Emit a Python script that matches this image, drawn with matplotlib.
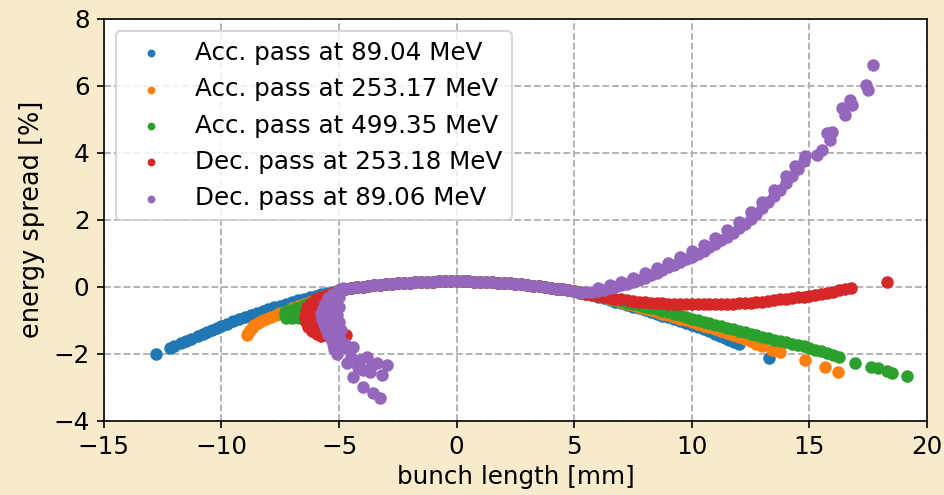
import matplotlib
matplotlib.use('Agg')
import matplotlib.pyplot as plt

# shared central part of all bunches (bunch length [mm], energy spread [%])
core_x = [-5.0, -4.75, -4.5, -4.25, -4.0, -3.75, -3.5, -3.25, -3.0, -2.75,
          -2.5, -2.25, -2.0, -1.75, -1.5, -1.25, -1.0, -0.75, -0.5, -0.25,
          0.0, 0.25, 0.5, 0.75, 1.0, 1.25, 1.5, 1.75, 2.0, 2.25,
          2.5, 2.75, 3.0, 3.25, 3.5, 3.75, 4.0, 4.25, 4.5, 4.75, 5.0]
core_y = [-0.11, -0.08, -0.05, -0.02, 0.0, 0.02, 0.04, 0.06, 0.07, 0.09,
          0.10, 0.11, 0.12, 0.13, 0.14, 0.15, 0.15, 0.16, 0.16, 0.16,
          0.16, 0.16, 0.16, 0.15, 0.15, 0.14, 0.13, 0.12, 0.11, 0.10,
          0.08, 0.07, 0.05, 0.03, 0.01, -0.01, -0.03, -0.06, -0.08, -0.11, -0.14]

# Acc. pass at 89.04 MeV
acc89_left_x = [-12.8, -12.2, -12.0, -11.7, -11.5, -11.3, -11.0, -10.8, -10.6, -10.4,
                -10.2, -10.0, -9.75, -9.5, -9.25, -9.0, -8.75, -8.5, -8.25, -8.0,
                -7.75, -7.5, -7.25, -7.0, -6.75, -6.5, -6.25, -6.0, -5.75, -5.5, -5.25]
acc89_left_y = [-2.02, -1.82, -1.76, -1.67, -1.61, -1.55, -1.47, -1.41, -1.35, -1.29,
                -1.24, -1.17, -1.1, -1.03, -0.96, -0.9, -0.84, -0.78, -0.72, -0.66,
                -0.61, -0.56, -0.51, -0.46, -0.41, -0.36, -0.32, -0.28, -0.23, -0.19, -0.15]
acc89_right_x = [5.25, 5.5, 5.75, 6.0, 6.25, 6.5, 6.75, 7.0, 7.25, 7.5,
                 7.75, 8.0, 8.25, 8.5, 8.75, 9.0, 9.25, 9.5, 9.75, 10.0,
                 10.25, 10.5, 10.75, 11.0, 11.2, 11.4, 11.6, 11.8, 12.0, 13.3]
acc89_right_y = [-0.18, -0.22, -0.26, -0.30, -0.34, -0.39, -0.44, -0.49, -0.54, -0.59,
                 -0.64, -0.69, -0.75, -0.80, -0.86, -0.91, -0.97, -1.02, -1.08, -1.13,
                 -1.19, -1.25, -1.33, -1.42, -1.48, -1.54, -1.6, -1.66, -1.72, -2.12]

# Acc. pass at 253.17 MeV
acc253_left_x = [-8.9, -8.85, -8.8, -8.7, -8.6, -8.45, -8.3, -8.1, -7.9, -7.7,
                 -7.5, -7.25, -7.0, -6.75, -6.5, -6.25, -6.0, -5.75, -5.5, -5.25]
acc253_left_y = [-1.45, -1.38, -1.3, -1.22, -1.15, -1.08, -1.02, -0.96, -0.9, -0.84,
                 -0.78, -0.71, -0.64, -0.57, -0.51, -0.45, -0.38, -0.31, -0.25, -0.19]
acc253_right_x = [5.25, 5.5, 5.75, 6.0, 6.25, 6.5, 6.75, 7.0, 7.25, 7.5,
                  7.75, 8.0, 8.25, 8.5, 8.75, 9.0, 9.25, 9.5, 9.75, 10.0,
                  10.25, 10.5, 10.75, 11.0, 11.25, 11.5, 11.75, 12.0, 12.25, 12.5,
                  12.75, 13.0, 13.4, 13.75, 14.8, 15.65, 16.2]
acc253_right_y = [-0.17, -0.21, -0.24, -0.28, -0.32, -0.37, -0.41, -0.46, -0.5, -0.55,
                  -0.6, -0.65, -0.7, -0.75, -0.8, -0.85, -0.9, -0.95, -1.0, -1.05,
                  -1.1, -1.16, -1.21, -1.27, -1.33, -1.38, -1.44, -1.5, -1.56, -1.63,
                  -1.7, -1.77, -1.88, -1.95, -2.18, -2.39, -2.55]

# Acc. pass at 499.35 MeV
acc499_left_x = [-7.3, -7.3, -7.25, -7.15, -7.0, -6.85, -6.7, -6.55, -6.4, -7.1,
                 -6.9, -6.7, -6.5, -6.25, -6.0, -5.75, -5.5, -5.25]
acc499_left_y = [-0.85, -0.75, -0.92, -0.68, -0.93, -0.63, -0.93, -0.58, -0.9, -0.72,
                 -0.7, -0.78, -0.55, -0.49, -0.42, -0.35, -0.28, -0.2]
acc499_right_x = [5.25, 5.5, 5.75, 6.0, 6.25, 6.5, 6.75, 7.0, 7.25, 7.5,
                  7.75, 8.0, 8.25, 8.5, 8.75, 9.0, 9.25, 9.5, 9.75, 10.0,
                  10.25, 10.5, 10.75, 11.0, 11.25, 11.5, 11.75, 12.0, 12.25, 12.5,
                  12.75, 13.0, 13.25, 13.5, 13.75, 14.0, 14.25, 14.5, 14.75, 15.0,
                  15.25, 15.5, 15.75, 16.0, 16.25, 16.95, 17.6, 17.9, 18.3, 18.5, 19.15]
acc499_right_y = [-0.16, -0.19, -0.23, -0.27, -0.31, -0.35, -0.39, -0.43, -0.47, -0.51,
                  -0.55, -0.59, -0.63, -0.67, -0.71, -0.76, -0.8, -0.85, -0.9, -0.95,
                  -0.99, -1.04, -1.08, -1.13, -1.17, -1.22, -1.26, -1.31, -1.35, -1.4,
                  -1.45, -1.5, -1.54, -1.58, -1.62, -1.66, -1.7, -1.74, -1.78, -1.83,
                  -1.88, -1.93, -1.98, -2.04, -2.1, -2.28, -2.39, -2.42, -2.51, -2.56, -2.66]

# Dec. pass at 253.18 MeV
dec253_left_x = [-5.25, -5.5, -5.75, -6.0, -6.2, -6.35, -6.42, -6.45, -6.4, -6.3,
                 -6.15, -5.95, -5.75, -5.55, -6.1, -6.15, -6.1, -5.95, -5.75, -5.85,
                 -5.9, -5.85, -5.65, -5.6, -5.6, -5.5, -5.4, -4.7]
dec253_left_y = [-0.18, -0.24, -0.3, -0.38, -0.48, -0.6, -0.75, -0.9, -1.05, -1.2,
                 -1.32, -1.42, -1.47, -1.45, -0.65, -0.85, -1.05, -1.2, -1.32, -0.55,
                 -0.8, -1.0, -1.15, -0.45, -0.7, -1.3, -1.45, -1.43]
dec253_right_x = [5.25, 5.5, 5.75, 6.0, 6.25, 6.5, 6.75, 7.0, 7.25, 7.5,
                  7.75, 8.0, 8.25, 8.5, 8.75, 9.0, 9.25, 9.5, 9.75, 10.0,
                  10.25, 10.5, 10.75, 11.0, 11.25, 11.5, 11.75, 12.0, 12.25, 12.5,
                  12.75, 13.0, 13.25, 13.5, 13.75, 14.0, 14.25, 14.5, 14.75, 15.0,
                  15.25, 15.5, 15.75, 16.0, 16.25, 16.5, 16.75, 18.3]
dec253_right_y = [-0.19, -0.22, -0.25, -0.28, -0.31, -0.33, -0.36, -0.38, -0.4, -0.42,
                  -0.44, -0.46, -0.47, -0.48, -0.49, -0.5, -0.51, -0.51, -0.52, -0.52,
                  -0.52, -0.52, -0.52, -0.52, -0.51, -0.51, -0.5, -0.49, -0.48, -0.47,
                  -0.45, -0.44, -0.42, -0.4, -0.38, -0.36, -0.34, -0.32, -0.3, -0.28,
                  -0.25, -0.22, -0.19, -0.15, -0.11, -0.07, -0.03, 0.15]

# Dec. pass at 89.06 MeV
dec89_left_x = [-4.85, -5.05, -5.25, -5.45, -5.6, -5.7, -5.75, -5.72, -5.65, -5.55,
                -5.45, -5.35, -5.25, -5.2, -5.1, -5.0, -5.3, -5.0, -5.4, -5.1,
                -5.4, -5.0, -5.2, -4.9, -5.1, -4.95, -5.0, -4.75, -4.6, -4.41,
                -4.68, -4.11, -3.81, -3.39, -2.96, -3.18, -3.98, -4.41, -3.98, -3.56,
                -3.26, -4.2, -3.7, -4.5, -3.6]
dec89_left_y = [-0.05, -0.12, -0.22, -0.35, -0.5, -0.65, -0.8, -0.95, -1.1, -1.25,
                -1.4, -1.55, -1.7, -1.85, -2.0, -0.3, -0.5, -0.6, -0.75, -0.85,
                -1.0, -1.05, -1.2, -1.3, -1.45, -1.6, -1.8, -1.7, -1.85, -1.79,
                -2.28, -2.18, -2.09, -2.28, -2.33, -2.63, -2.48, -2.69, -2.99, -3.16,
                -3.31, -2.4, -2.55, -2.1, -2.35]
dec89_right_x = [5.25, 5.5, 5.75, 6.0, 6.25, 6.5, 6.75, 7.0, 7.25, 7.5,
                 7.75, 8.0, 8.25, 8.5, 8.75, 9.0, 9.25, 9.5, 9.75, 10.0,
                 10.25, 10.5, 10.75, 11.0, 11.25, 11.5, 11.75, 12.0, 12.25, 12.5,
                 12.75, 13.0, 13.25, 13.5, 13.75, 14.0, 14.25, 14.5, 14.75, 14.8,
                 15.33, 15.54, 15.75, 15.97, 15.88, 16.4, 16.52, 16.73, 16.8, 17.4,
                 17.5, 17.7]
dec89_right_y = [-0.19, -0.17, -0.15, -0.12, -0.09, -0.05, -0.01, 0.04, 0.09, 0.14,
                 0.2, 0.27, 0.34, 0.42, 0.5, 0.58, 0.66, 0.74, 0.82, 0.9,
                 0.99, 1.08, 1.18, 1.28, 1.39, 1.5, 1.62, 1.74, 1.88, 2.02,
                 2.18, 2.35, 2.52, 2.7, 2.9, 3.1, 3.3, 3.52, 3.75, 3.91,
                 3.94, 4.09, 4.6, 4.63, 4.39, 5.34, 5.13, 5.58, 5.43, 6.03,
                 5.88, 6.63]
# upper edge of the wide Dec. 89.06 MeV band
dec89_edge_x = [6.0, 6.5, 7.0, 7.5, 8.0, 8.5, 9.0, 9.5, 10.0, 10.5,
                11.0, 11.5, 12.0, 12.5, 13.0, 13.5, 14.0, 14.4]
dec89_edge_y = [-0.04, 0.04, 0.14, 0.26, 0.4, 0.56, 0.72, 0.9, 1.06, 1.26,
                1.46, 1.7, 1.94, 2.22, 2.54, 2.9, 3.3, 3.62]

series = [
    (acc89_left_x + core_x + acc89_right_x, acc89_left_y + core_y + acc89_right_y,
     'Acc. pass at 89.04 MeV'),
    (acc253_left_x + core_x + acc253_right_x, acc253_left_y + core_y + acc253_right_y,
     'Acc. pass at 253.17 MeV'),
    (acc499_left_x + core_x + acc499_right_x, acc499_left_y + core_y + acc499_right_y,
     'Acc. pass at 499.35 MeV'),
    (dec253_left_x + core_x + dec253_right_x, dec253_left_y + core_y + dec253_right_y,
     'Dec. pass at 253.18 MeV'),
    (dec89_left_x + core_x + dec89_right_x + dec89_edge_x,
     dec89_left_y + core_y + dec89_right_y + dec89_edge_y,
     'Dec. pass at 89.06 MeV'),
]

fig = plt.figure(figsize=(6.4, 3.356), dpi=147.5, facecolor='#f7ebcb')
ax = fig.add_axes([0.110, 0.150, 0.872, 0.812])
for x, y, label in series:
    ax.scatter(x, y, s=26, label=label, zorder=3)

ax.set_xlim(-15, 20)
ax.set_ylim(-4, 8)
ax.tick_params(labelsize=12)
ax.set_xlabel('bunch length [mm]', fontsize=12, labelpad=3)
ax.set_ylabel('energy spread [%]', fontsize=12.5)
ax.grid(True, linestyle='--', color='#b0b0b0', linewidth=0.9)
ax.legend(loc='upper left', markerscale=0.55, fontsize=12)

fig.savefig('out.png', dpi=147.5, facecolor=fig.get_facecolor())
